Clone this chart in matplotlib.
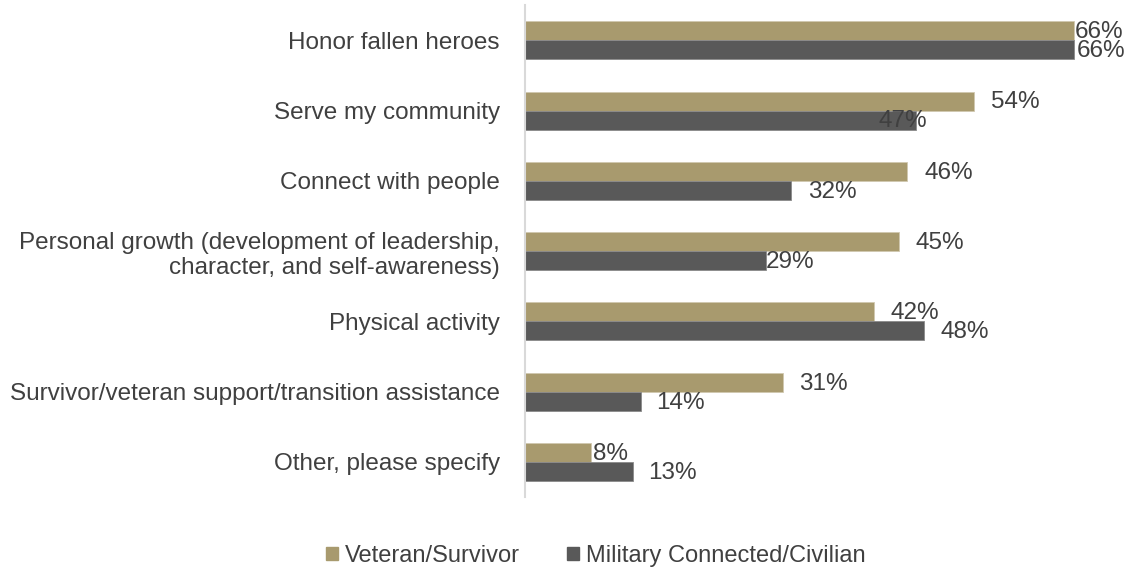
import numpy as np
import matplotlib.pyplot as plt
from matplotlib.patches import Patch

plt.rcParams['font.family'] = ['Liberation Sans', 'DejaVu Sans']

# data
categories = ['Honor fallen heroes', 'Serve my community', 'Connect with people',
              'Personal growth (development of leadership,\ncharacter, and self-awareness)',
              'Physical activity', 'Survivor/veteran support/transition assistance',
              'Other, please specify']
veteran = [66, 54, 46, 45, 42, 31, 8]
military = [66, 47, 32, 29, 48, 14, 13]
series_names = ['Veteran/Survivor', 'Military Connected/Civilian']

# label nudges in points (label collision shifts as in the original)
vet_dx = [1, 12, 12, 12, 12, 12, 1]
mil_dx = [2, -27, 12, 0, 12, 11, 11]

tan = '#A89A6E'
dark = '#595959'
txt = '#404040'

fig = plt.figure(figsize=(11.46, 5.7), dpi=100)
ax = fig.add_axes([0.458, 0.128, 0.508, 0.863])

y = np.arange(len(categories))
h = 0.27
ax.barh(y - h / 2, veteran, height=h, color=tan, edgecolor='#d0c8b0', linewidth=0.6)
ax.barh(y + h / 2, military, height=h, color=dark, edgecolor='#8a8a8a', linewidth=0.6)

for i in range(len(categories)):
    ax.annotate(f'{veteran[i]}%', (veteran[i], y[i] - h / 2), xytext=(vet_dx[i], -1),
                textcoords='offset points', ha='left', va='center', fontsize=17.5, color=txt)
    ax.annotate(f'{military[i]}%', (military[i], y[i] + h / 2), xytext=(mil_dx[i], -1),
                textcoords='offset points', ha='left', va='center', fontsize=17.5, color=txt)

ax.set_xlim(0, 70)
ax.set_ylim(len(categories) - 0.5, -0.5)
ax.set_yticks(y)
ax.set_yticklabels(categories, fontsize=17.5, color=txt)
ax.set_xticks([])
ax.tick_params(axis='y', length=0, pad=18)
for s in ['top', 'right', 'bottom']:
    ax.spines[s].set_visible(False)
ax.spines['left'].set_color('#d9d9d9')
ax.spines['left'].set_linewidth(1.5)

handles = [Patch(color=tan), Patch(color=dark)]
fig.legend(handles, series_names, loc='center', bbox_to_anchor=(0.52, 0.025), ncol=2,
           frameon=False, fontsize=17, handlelength=0.5, handleheight=0.5,
           handletextpad=0.3, columnspacing=2.0, labelcolor=txt)

fig.savefig('out.png', dpi=100)
